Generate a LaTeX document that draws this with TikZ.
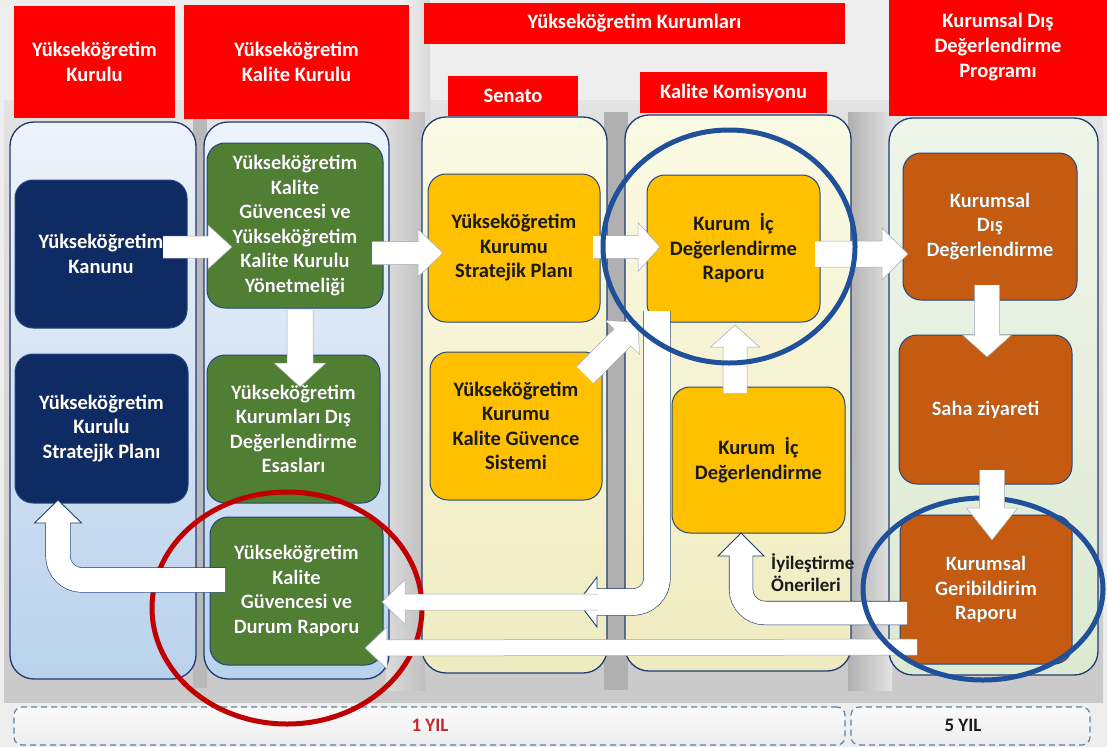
\documentclass[tikz,border=0pt]{standalone}
\usepackage{fontspec}
\setmainfont{Carlito}
\usepackage[outline]{contour}
\contourlength{0.7pt}
\usetikzlibrary{calc}
\definecolor{pagebg}{HTML}{EEEEEE}
\definecolor{hdrred}{HTML}{FF0000}
\definecolor{colborder}{HTML}{1F3A73}
\definecolor{boxborder}{HTML}{25467F}
\definecolor{navyc}{HTML}{0F2B63}
\definecolor{greenc}{HTML}{507E32}
\definecolor{yellowc}{HTML}{FFC000}
\definecolor{orangec}{HTML}{C55A11}
\definecolor{ringblue}{HTML}{21509A}
\definecolor{ringred}{HTML}{C00000}
\definecolor{arrowedge}{HTML}{1F3B73}
\definecolor{softedge}{HTML}{A0A8B4}
\definecolor{dashc}{HTML}{5F7FA0}
\definecolor{yilred}{HTML}{C0282D}
\definecolor{darktext}{HTML}{1A1A1A}
\definecolor{glowc}{HTML}{1E2A1A}
\definecolor{bluetop}{HTML}{EEF3FA}
\definecolor{bluebot}{HTML}{B9D2EC}
\definecolor{yeltop}{HTML}{FBFAE4}
\definecolor{yelbot}{HTML}{EFEBC0}
\definecolor{gretop}{HTML}{EEF5E9}
\definecolor{grebot}{HTML}{DCEAD2}
\newcommand\hfont{\fontsize{20.5}{25}\selectfont\bfseries}
\newcommand\bfont{\fontsize{20.5}{24.5}\selectfont\bfseries}
\newcommand\gl[1]{\contour{glowc}{#1}}
% straight block arrow: [style]{start}{tip}{shaft half width}{head half width}{head length}
\newcommand\barrow[6][]{%
  \filldraw[plainarrow,#1] let \p1=(#2), \p2=(#3),
     \n1={atan2(\y2-\y1,\x2-\x1)}, \n2={veclen(\x2-\x1,\y2-\y1)} in
     [shift={(\p1)}, rotate=\n1]
     (0,-#4) -- ({\n2-#6},-#4) -- ({\n2-#6},-#5) -- (\n2,0)
     -- ({\n2-#6},#5) -- ({\n2-#6},#4) -- (0,#4);}
\begin{document}
\begin{tikzpicture}[x=1pt,y=-1pt,
  hdr/.style={fill=hdrred, draw=none, text=white, font=\hfont, align=center, inner sep=0pt},
  col/.style={rounded corners=24pt, draw=colborder, line width=1.3pt, inner sep=0pt},
  bluecol/.style={col, top color=bluetop, bottom color=bluebot},
  yelcol/.style={col, top color=yeltop, bottom color=yelbot},
  grecol/.style={col, top color=gretop, bottom color=grebot},
  ibox/.style={rounded corners=18pt, draw=boxborder, line width=1pt, align=center, font=\bfont, inner sep=0pt},
  navybox/.style={ibox, fill=navyc, text=white},
  greenbox/.style={ibox, fill=greenc, text=white},
  yelbox/.style={ibox, fill=yellowc, text=darktext},
  orabox/.style={ibox, fill=orangec, text=white},
  plainarrow/.style={fill=white, draw=softedge, line width=0.5pt, line join=miter},
  bluearrow/.style={fill=white, draw=arrowedge, line width=0.9pt, line join=miter},
  ring/.style={line width=5pt},
  dashbox/.style={rounded corners=8pt, draw=dashc, line width=1.2pt, dash pattern=on 6pt off 4pt, top color=gray!4, bottom color=gray!14, inner sep=0pt},
]
\useasboundingbox (0,0) rectangle (1107,747);
\clip (0,0) rectangle (1107,747);
\fill[pagebg] (0,0) rectangle (1107,747);
% backdrop and gaps
\shade[top color=gray!22, bottom color=gray!42] (4,100) rectangle (1103,702);
\shade[left color=gray!10, right color=gray!30] (400,0) rectangle (430,120);
\fill[gray!55] (193,118) rectangle (207,688);
\shade[left color=gray!28, right color=gray!50] (386,112) rectangle (425,690);
\fill[gray!62] (604,112) rectangle (628,690);
\shade[left color=gray!62, right color=gray!22] (848,112) rectangle (892,690);

% headers
\node[hdr, minimum width=161pt, minimum height=112pt] (h1) at (94.5,62) {Yükseköğretim\\Kurulu};
\node[hdr, minimum width=225pt, minimum height=114pt] (h2) at (296.5,62) {Yükseköğretim\\Kalite Kurulu};
\node[hdr, minimum width=421pt, minimum height=41pt] (h3) at (634.5,23.5) {Yükseköğretim Kurumları};
\node[hdr, minimum width=130pt, minimum height=40pt] (h4) at (513,96) {Senato};
\node[hdr, minimum width=187pt, minimum height=41pt] (h5) at (733.5,92.5) {Kalite Komisyonu};
\node[hdr, minimum width=218pt, minimum height=138pt] (h6) at (998,47) {Kurumsal Dış\\Değerlendirme\\Programı};

% columns
\node[bluecol, minimum width=186pt, minimum height=557pt] (c1) at (103,400.5) {};
\node[bluecol, minimum width=185pt, minimum height=557pt] (c2) at (296.5,400.5) {};
\node[yelcol, minimum width=185pt, minimum height=556pt] (c3) at (514.5,395) {};
\node[yelcol, minimum width=226pt, minimum height=556pt] (c4) at (738,393) {};
\node[grecol, minimum width=209pt, minimum height=557pt] (c5) at (993.5,396.5) {};

% bottom bars
\node[dashbox, minimum width=831pt, minimum height=38pt] (d1) at (429.5,726) {};
\node[dashbox, minimum width=239pt, minimum height=38pt] (d2) at (970.5,726) {};
\node[font=\fontsize{19}{21}\selectfont\bfseries, text=yilred] (t1) at (430,725) {1 YIL};
\node[font=\fontsize{19}{21}\selectfont\bfseries, text=darktext] (t2) at (963,725) {5 YIL};

% inner boxes
\node[navybox, minimum width=172pt, minimum height=148pt] (k1) at (101,254) {\gl{Yükseköğretim}\\\gl{Kanunu}};
\node[navybox, minimum width=173pt, minimum height=149pt] (k2) at (101.5,428.5) {\gl{Yükseköğretim}\\\gl{Kurulu}\\\gl{Stratejjk Planı}};
\node[greenbox, minimum width=176pt, minimum height=165pt] (g1) at (295,225.5) {\gl{Yükseköğretim}\\\gl{Kalite}\\\gl{Güvencesi ve}\\\gl{Yükseköğretim}\\\gl{Kalite Kurulu}\\\gl{Yönetmeliği}};
\node[greenbox, minimum width=173pt, minimum height=148pt] (g2) at (293.5,429) {\gl{Yükseköğretim}\\\gl{Kurumları Dış}\\\gl{Değerlendirme}\\\gl{Esasları}};
\node[greenbox, minimum width=173pt, minimum height=148pt] (g3) at (296.5,591) {\gl{Yükseköğretim}\\\gl{Kalite}\\\gl{Güvencesi ve}\\\gl{Durum Raporu}};
\node[yelbox, minimum width=172pt, minimum height=148pt] (y1) at (514,248) {Yükseköğretim\\Kurumu\\Stratejik Planı};
\node[yelbox, minimum width=173pt, minimum height=147pt] (y2) at (733.5,248.5) {Kurum~~İç\\Değerlendirme\\Raporu};
\node[yelbox, minimum width=172pt, minimum height=148pt] (y3) at (516,426) {Yükseköğretim\\Kurumu\\Kalite Güvence\\Sistemi};
\node[yelbox, minimum width=173pt, minimum height=146pt] (y4) at (758.5,460) {Kurum~~İç\\Değerlendirme};
\node[orabox, minimum width=174pt, minimum height=147pt] (o1) at (990,226.5) {\gl{Kurumsal}\\\gl{Dış}\\\gl{Değerlendirme}};
\node[orabox, minimum width=173pt, minimum height=149pt] (o2) at (985.5,409.5) {\gl{Saha ziyareti}};
\node[orabox, minimum width=172pt, minimum height=149pt] (o3) at (986,589.5) {\gl{Kurumsal}\\\gl{Geribildirim}\\\gl{Raporu}};

\node[font=\fontsize{19}{22}\selectfont\bfseries, text=darktext, align=left, anchor=west, inner sep=0pt] (lbl) at (771,573) {İyileştirme\\Önerileri};

% red ring (under arrows)
\draw[ring, ringred] (287,608) ellipse [x radius=135pt, y radius=116pt];

% arrow end points
\coordinate (a1s) at (163,247); \coordinate (a1t) at (232,247);
\coordinate (a2s) at (372,253); \coordinate (a2t) at (443,253);
\coordinate (a3s) at (593,247); \coordinate (a3t) at (660,247);
\coordinate (a4s) at (815,254); \coordinate (a4t) at (908,254);
\coordinate (a5s) at (300,310); \coordinate (a5t) at (300,387);
\coordinate (a6s) at (987,285); \coordinate (a6t) at (987,357);
\coordinate (a8s) at (735,393); \coordinate (a8t) at (735,325);
\coordinate (a9s) at (585,375); \coordinate (a9t) at (638,322);
\coordinate (bs) at (598,602); \coordinate (bt) at (382,602);
\coordinate (cs) at (917,647); \coordinate (ct) at (365,648);
% L arrow A: Raporu down and left
\coordinate (As) at (657,311); \coordinate (Ab) at (597,602); \coordinate (At) at (578,602);
% L arrow D: Geribildirim -> Kurum Ic Degerlendirme
\coordinate (Ds) at (907,613); \coordinate (Db) at (741,556); \coordinate (Dt) at (741,533);
% L arrow E: Durum Raporu -> Stratejik Plan
\coordinate (Es) at (225,580); \coordinate (Eb) at (58,523); \coordinate (Et) at (58,500);

% straight arrows
\barrow{a1s}{a1t}{11}{22}{24}
\barrow{a2s}{a2t}{11.5}{24}{25}
\barrow{a3s}{a3t}{11.5}{24.5}{22}
\barrow{a4s}{a4t}{13}{26}{26}
\barrow{a5s}{a5t}{13}{26}{24}
\barrow{a6s}{a6t}{12.5}{24.5}{22}
\barrow{a8s}{a8t}{12}{24.5}{22}
\barrow{a9s}{a9t}{12}{24}{22}

% L arrows
\draw[line width=27.2pt, arrowedge, rounded corners=24pt] (As) |- (Ab);
\draw[line width=26pt, white, rounded corners=24pt] (As) |- (Ab);
\barrow[bluearrow]{Ab}{At}{13}{25}{19}
\draw[line width=24.2pt, arrowedge, rounded corners=24pt] (Ds) -| (Db);
\draw[line width=23pt, white, rounded corners=24pt] (Ds) -| (Db);
\barrow[bluearrow]{Db}{Dt}{11.5}{23}{23}
\draw[line width=25.2pt, arrowedge, rounded corners=24pt] (Es) -| (Eb);
\draw[line width=24pt, white, rounded corners=24pt] (Es) -| (Eb);
\barrow[bluearrow]{Eb}{Et}{12}{23.5}{23}

% long straight return arrows
\barrow{bs}{bt}{8}{22.5}{23}
\barrow{cs}{ct}{8}{21}{22}

% blue rings
\draw[ring, ringblue] (729,246.5) ellipse [x radius=126pt, y radius=116.5pt];
\draw[ring, ringblue] (983,589) ellipse [x radius=120pt, y radius=91pt];

\coordinate (a7s) at (992,470); \coordinate (a7t) at (992,540);
\barrow{a7s}{a7t}{12.5}{25.5}{32}
\end{tikzpicture}
\end{document}
